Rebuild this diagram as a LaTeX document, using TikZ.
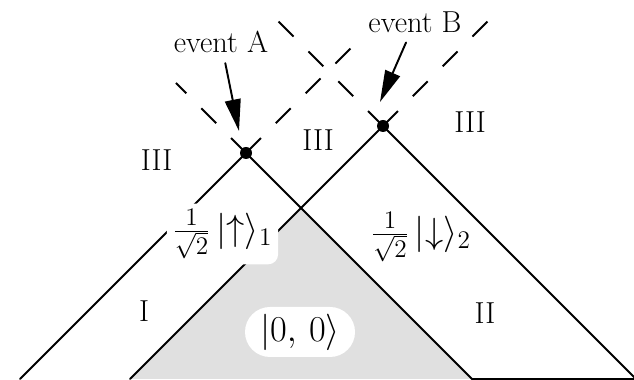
\documentclass[tikz,border=0pt]{standalone}
\usetikzlibrary{arrows.meta,calc}
\begin{document}
\begin{tikzpicture}[line cap=round, line join=round, font=\LARGE, line width=1.1pt,
    cone/.style={line cap=butt, dash pattern=on 12pt off 12pt},
    ketbox/.style={fill=white, rounded corners=0.2cm, font=\huge},
    pointer/.style={-{Triangle[length=18pt,width=9pt]}, shorten <=2pt}]
  \useasboundingbox (0,0) rectangle (12.68,7.6);
  % the two events and where their cones hit the bottom
  \coordinate (A) at (4.92,4.54);
  \coordinate (B) at (7.66,5.08);
  \coordinate (Al) at ($(A)+(-4.52,-4.52)$);
  \coordinate (Ar) at ($(A)+(4.52,-4.52)$);
  \coordinate (Bl) at ($(B)+(-5.06,-5.06)$);
  \coordinate (Br) at ($(B)+(5.2,-5.2)$);
  \coordinate (C) at (intersection of A--Ar and B--Bl);
  \begin{scope}
    \clip (0,0) rectangle (12.68,7.6);
    \fill[black!12] (C) -- (Ar) -- (Bl) -- cycle;
    \draw (Al) -- (A) -- (Ar) -- (13,0.02);
    \draw (Bl) -- (B) -- (Br);
    \draw[cone] (A) -- ++(-1.4,1.4);
    \draw[cone] (A) -- ++(2.2,2.2);
    \draw[cone] (B) -- ++(-2.25,2.25);
    \draw[cone] (B) -- ++(2.3,2.3);
  \end{scope}
  \fill (A) circle (0.12);
  \fill (B) circle (0.12);
  % labels
  \node (evA) at (4.42,6.76) {event A};
  \node (evB) at (8.3,7.16) {event B};
  \coordinate (tipA) at (4.78,4.98);
  \coordinate (tipB) at (7.6,5.56);
  \draw[pointer] (evA) -- (tipA);
  \draw[pointer] (evB) -- (tipB);
  \node (regI) at (2.88,1.38) {I};
  \node (regII) at (9.7,1.34) {II};
  \node (regIIIa) at (3.13,4.4) {III};
  \node (regIIIb) at (6.36,4.8) {III};
  \node (regIIIc) at (9.4,5.16) {III};
  \node[ketbox] (ketup) at (4.45,2.92) {$\frac{1}{\sqrt{2}}\,|{\uparrow}\rangle_1$};
  \node[font=\huge] (ketdown) at (8.42,2.86) {$\frac{1}{\sqrt{2}}\,|{\downarrow}\rangle_2$};
  \node[ketbox, rounded corners=0.5cm, minimum width=2.2cm, minimum height=1cm] (vac) at (6.0,0.96) {$|0,\,0\rangle$};
\end{tikzpicture}
\end{document}
